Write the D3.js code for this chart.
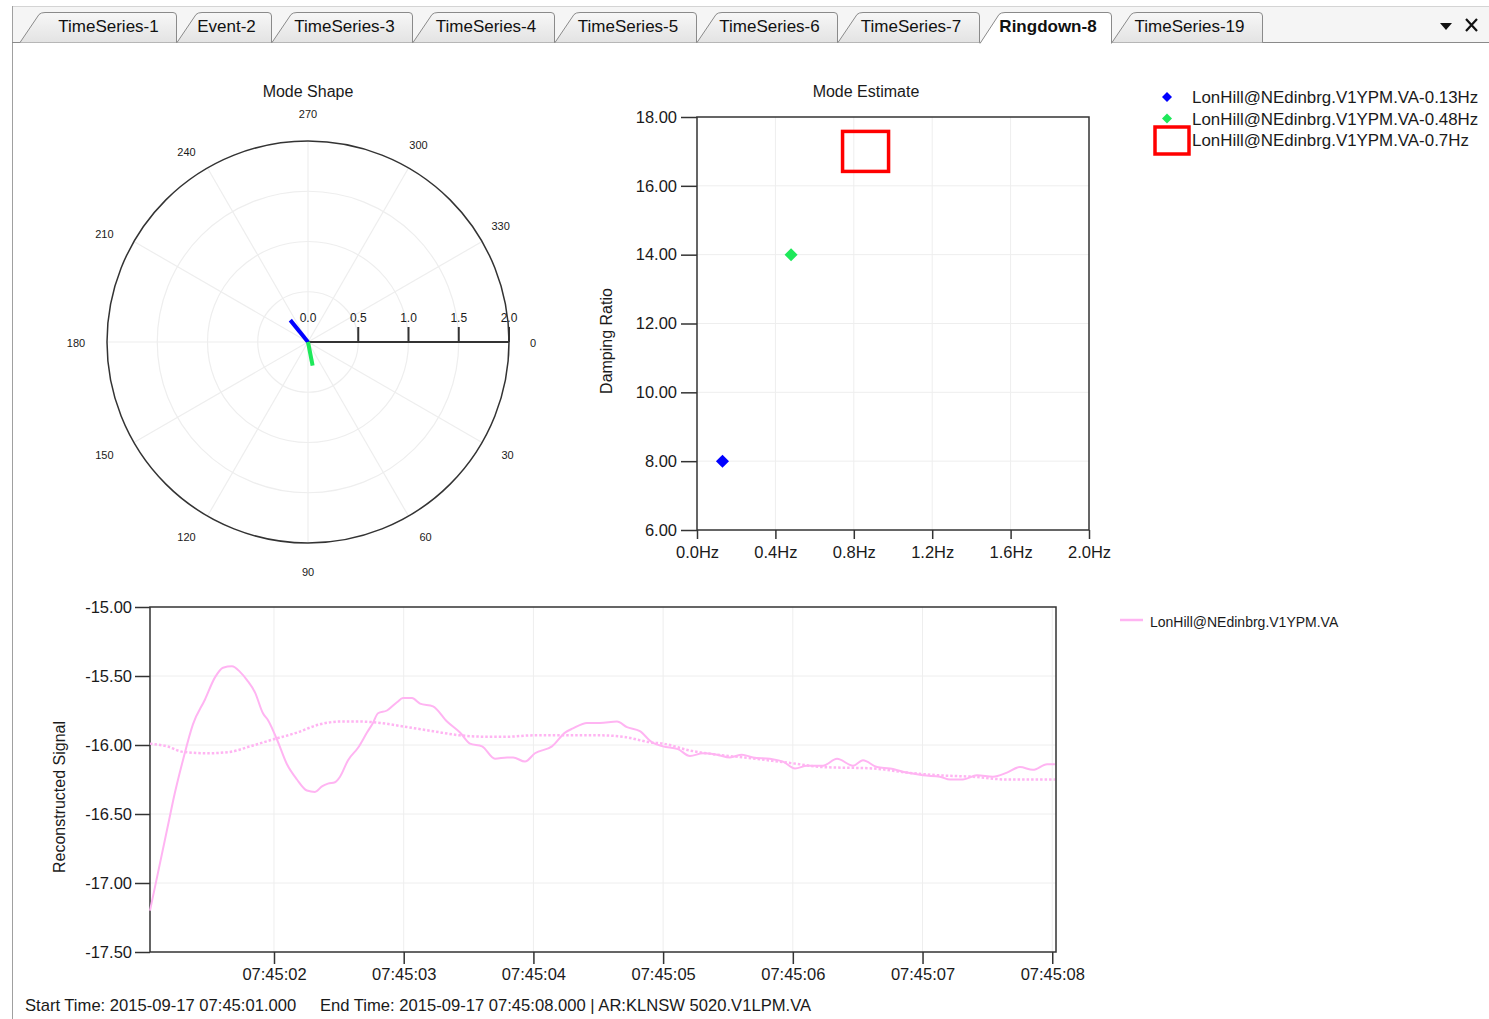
<!DOCTYPE html>
<html>
<head>
<meta charset="utf-8">
<script src="https://cdn.jsdelivr.net/npm/d3@7"></script>
<style>
body { margin: 0; background: #fff; }
svg { display: block; font-family: "Liberation Sans", Arial, sans-serif; }
</style>
</head>
<body>
<div id="chart"></div>
<script>
// ---- data ----
const tabNames = ["TimeSeries-1", "Event-2", "TimeSeries-3", "TimeSeries-4", "TimeSeries-5",
    "TimeSeries-6", "TimeSeries-7", "Ringdown-8", "TimeSeries-19"];
const activeTab = "Ringdown-8";

// mode shape: magnitude / angle (deg, clockwise from 0)
const shapeMag = [0.28, 0.24];
const shapeAngle = [231, 79];
const shapeColors = ["#0000ff", "#1ee85a"];
const polarRings = [0.5, 1.0, 1.5, 2.0];
const polarAngles = [0, 30, 60, 90, 120, 150, 180, 210, 240, 270, 300, 330];

// mode estimate
const modeLabels = ["LonHill@NEdinbrg.V1YPM.VA-0.13Hz", "LonHill@NEdinbrg.V1YPM.VA-0.48Hz", "LonHill@NEdinbrg.V1YPM.VA-0.7Hz"];
const modeFreq = [0.13, 0.48, 0.86];
const modeDamping = [8.0, 14.0, 17.0];
const modeMarker = ["diamond", "diamond", "square"];
const modeColors = ["#0000ff", "#1ee85a", "#ff0000"];
const freqTicks = [0, 0.4, 0.8, 1.2, 1.6, 2.0];
const dampTicks = [6, 8, 10, 12, 14, 16, 18];

// ringdown signal (seconds after 07:45:00)
const sigName = "LonHill@NEdinbrg.V1YPM.VA";
const sigTime = [1.044, 1.192, 1.223, 1.298, 1.375, 1.468, 1.545, 1.607, 1.676, 1.738, 1.792, 1.854, 1.915, 1.954,
    2.023, 2.100, 2.177, 2.254, 2.316, 2.370, 2.416, 2.470, 2.509, 2.571, 2.648, 2.717, 2.763, 2.802, 2.871, 2.948,
    2.995, 3.064, 3.126, 3.226, 3.334, 3.434, 3.511, 3.604, 3.704, 3.797, 3.843, 3.935, 4.012, 4.143, 4.244, 4.305,
    4.413, 4.513, 4.644, 4.721, 4.821, 4.914, 4.999, 5.114, 5.207, 5.307, 5.415, 5.515, 5.608, 5.693, 5.824, 5.924,
    6.017, 6.109, 6.233, 6.341, 6.464, 6.541, 6.649, 6.749, 6.880, 7.004, 7.135, 7.212, 7.312, 7.420, 7.543, 7.651,
    7.751, 7.851, 7.960, 8.021];
const sigValue = [-17.20, -16.54, -16.40, -16.11, -15.85, -15.67, -15.51, -15.44, -15.43, -15.47, -15.53, -15.62, -15.77, -15.82,
    -15.96, -16.14, -16.25, -16.33, -16.34, -16.30, -16.28, -16.27, -16.23, -16.11, -16.02, -15.91, -15.84, -15.77, -15.75, -15.69,
    -15.66, -15.66, -15.70, -15.72, -15.83, -15.91, -15.99, -16.01, -16.10, -16.09, -16.09, -16.12, -16.06, -16.01, -15.91, -15.88,
    -15.84, -15.84, -15.83, -15.87, -15.90, -15.98, -16.01, -16.03, -16.08, -16.06, -16.07, -16.09, -16.07, -16.09, -16.10, -16.12,
    -16.17, -16.15, -16.15, -16.10, -16.15, -16.11, -16.16, -16.17, -16.20, -16.22, -16.23, -16.25, -16.25, -16.22, -16.23, -16.20,
    -16.16, -16.18, -16.14, -16.14];
const fitTime = [1.044, 1.176, 1.298, 1.483, 1.661, 1.815, 1.992, 2.177, 2.354, 2.509, 2.663, 2.817, 3.025, 3.226, 3.434,
    3.642, 3.797, 3.998, 4.206, 4.513, 4.690, 4.898, 4.999, 5.207, 5.415, 5.616, 5.978, 6.233, 6.619, 6.880, 7.135,
    7.389, 7.651, 8.021];
const fitValue = [-15.99, -16.01, -16.05, -16.06, -16.05, -16.01, -15.96, -15.91, -15.85, -15.83, -15.83, -15.84, -15.87, -15.90, -15.93,
    -15.94, -15.94, -15.93, -15.93, -15.93, -15.94, -15.98, -15.99, -16.04, -16.07, -16.09, -16.13, -16.16, -16.17, -16.20, -16.22,
    -16.23, -16.25, -16.25];
const signalTicks = [-17.5, -17.0, -16.5, -16.0, -15.5, -15.0];
const timeTickSeconds = [2, 3, 4, 5, 6, 7, 8];
const startText = "Start Time: 2015-09-17 07:45:01.000";
const endText = "End Time: 2015-09-17 07:45:08.000 | AR:KLNSW 5020.V1LPM.VA";

// ---- setup ----
const W = 1489, H = 1019;
const TEXT = "#1a1a1a", AXIS = "#333", GRID = "#eeeeee", PINK = "#ffb4f2";

const svg = d3.select("#chart").append("svg")
    .attr("width", W)
    .attr("height", H);

// ---- tab strip ----
const tabEdges = [[20, 177], [177, 272], [272, 413], [413, 555], [555, 697], [697, 838], [838, 980], [980, 1112], [1112, 1263]];
const defs = svg.append("defs");
const grad = defs.append("linearGradient").attr("id", "tabgrad").attr("x1", 0).attr("y1", 0).attr("x2", 0).attr("y2", 1);
grad.append("stop").attr("offset", "0%").attr("stop-color", "#f7f7f7");
grad.append("stop").attr("offset", "100%").attr("stop-color", "#e3e3e3");

svg.append("rect").attr("x", 12).attr("y", 6).attr("width", W - 12).attr("height", 36).attr("fill", "#f5f5f5");
svg.append("line").attr("x1", 12).attr("x2", W).attr("y1", 6.5).attr("y2", 6.5).attr("stroke", "#d4d4d4");
svg.append("line").attr("x1", 12.5).attr("x2", 12.5).attr("y1", 6).attr("y2", H).attr("stroke", "#a0a0a0");
svg.append("line").attr("x1", 12).attr("x2", W).attr("y1", 42.5).attr("y2", 42.5).attr("stroke", "#8a8a8a");

function tabPath(xl, xr, bottom) {
    return `M${xl},${bottom} L${xl + 19},14.5 Q${xl + 21},12.5 ${xl + 25},12.5 L${xr - 4},12.5 Q${xr - 0.5},12.5 ${xr - 0.5},16 L${xr - 0.5},${bottom}`;
}

const order = tabNames.map((d, i) => i).sort((a, b) => (tabNames[a] === activeTab) - (tabNames[b] === activeTab));
const tabs = svg.append("g").selectAll("g").data(order).join("g");
tabs.append("path")
    .attr("d", i => tabPath(tabEdges[i][0], tabEdges[i][1], tabNames[i] === activeTab ? 43.5 : 42.5))
    .attr("fill", i => tabNames[i] === activeTab ? "#fff" : "url(#tabgrad)")
    .attr("stroke", "#8a8a8a");
tabs.append("text")
    .attr("x", i => (tabEdges[i][0] + tabEdges[i][1]) / 2 + (i === 0 ? 10 : 2))
    .attr("y", 32)
    .attr("text-anchor", "middle")
    .attr("font-size", 17)
    .attr("font-weight", i => tabNames[i] === activeTab ? "bold" : "normal")
    .attr("fill", "#111")
    .text(i => tabNames[i]);

// dropdown arrow and close
svg.append("path").attr("d", "M1440,23 L1452,23 L1446,30 Z").attr("fill", "#111");
svg.append("path").attr("d", "M1466,19 L1477,31 M1477,19 L1466,31").attr("stroke", "#111").attr("stroke-width", 2.2);

// ---- polar mode shape ----
const cx = 308, cy = 342;
const rScale = d3.scaleLinear().domain([0, 2]).range([0, 201]);
const polar = svg.append("g").attr("transform", `translate(${cx},${cy})`);
const rad = a => a * Math.PI / 180;
// small hand nudges so the angle labels sit where the original control put them
const labelNudge = { 0: [-2, 1], 30: [3, -1], 60: [4, -2], 90: [0, 3], 120: [-8, -2], 150: [-7, -1],
    180: [-5, 1], 210: [-7, 5], 240: [-8, 7], 270: [0, -1], 300: [-3, 0], 330: [-4, -3] };

polar.selectAll(".ring").data(polarRings.slice(0, -1)).join("circle")
    .attr("r", d => rScale(d)).attr("fill", "none").attr("stroke", GRID).attr("stroke-width", 1.2);
polar.selectAll(".spoke").data(polarAngles).join("line")
    .attr("x1", 0).attr("y1", 0)
    .attr("x2", d => rScale(2) * Math.cos(rad(d)))
    .attr("y2", d => rScale(2) * Math.sin(rad(d)))
    .attr("stroke", GRID).attr("stroke-width", 1.2);
polar.append("circle").attr("r", rScale(2)).attr("fill", "none").attr("stroke", AXIS).attr("stroke-width", 1.5);

polar.selectAll(".alabel").data(polarAngles).join("text")
    .attr("x", d => 227 * Math.cos(rad(d)) + labelNudge[d][0])
    .attr("y", d => 227 * Math.sin(rad(d)) + labelNudge[d][1] + 4)
    .attr("text-anchor", "middle")
    .attr("font-size", 11)
    .attr("fill", TEXT)
    .text(d => d);

// radial axis
polar.append("line").attr("x1", 0).attr("x2", rScale(2)).attr("y1", 0).attr("y2", 0).attr("stroke", AXIS).attr("stroke-width", 2);
polar.selectAll(".rtick").data(polarRings).join("line")
    .attr("x1", d => rScale(d)).attr("x2", d => rScale(d))
    .attr("y1", 0).attr("y2", -15)
    .attr("stroke", AXIS).attr("stroke-width", 2);
polar.selectAll(".rlabel").data([0].concat(polarRings)).join("text")
    .attr("x", d => rScale(d))
    .attr("y", -20)
    .attr("text-anchor", "middle")
    .attr("font-size", 12)
    .attr("fill", TEXT)
    .text(d => d.toFixed(1));

polar.selectAll(".vec").data(shapeMag).join("line")
    .attr("x1", 0).attr("y1", 0)
    .attr("x2", (d, i) => rScale(d) * Math.cos(rad(shapeAngle[i])))
    .attr("y2", (d, i) => rScale(d) * Math.sin(rad(shapeAngle[i])))
    .attr("stroke", (d, i) => shapeColors[i])
    .attr("stroke-width", 4);

svg.append("text").attr("x", cx).attr("y", 97).attr("text-anchor", "middle")
    .attr("font-size", 16).attr("fill", TEXT).text("Mode Shape");

// ---- mode estimate scatter ----
const sx = d3.scaleLinear().domain([0, 2]).range([697, 1089]);
const sy = d3.scaleLinear().domain([6, 18]).range([530, 117]);
const sc = svg.append("g");

sc.selectAll(".gx").data(freqTicks.slice(1, -1)).join("line")
    .attr("x1", d => sx(d)).attr("x2", d => sx(d)).attr("y1", sy(6)).attr("y2", sy(18))
    .attr("stroke", GRID);
sc.selectAll(".gy").data(dampTicks.slice(1, -1)).join("line")
    .attr("y1", d => sy(d)).attr("y2", d => sy(d)).attr("x1", sx(0)).attr("x2", sx(2))
    .attr("stroke", GRID);
sc.append("rect").attr("x", sx(0)).attr("y", sy(18)).attr("width", sx(2) - sx(0)).attr("height", sy(6) - sy(18))
    .attr("fill", "none").attr("stroke", AXIS).attr("stroke-width", 1.5);

const sxAxis = sc.append("g").attr("transform", `translate(0,${sy(6)})`)
    .call(d3.axisBottom(sx).tickValues(freqTicks).tickSize(9).tickPadding(7).tickFormat(d => d.toFixed(1) + "Hz"));
const syAxis = sc.append("g").attr("transform", `translate(${sx(0)},0)`)
    .call(d3.axisLeft(sy).tickValues(dampTicks).tickSize(16).tickPadding(4).tickFormat(d => d.toFixed(2)));
[sxAxis, syAxis].forEach(a => {
    a.select(".domain").remove();
    a.selectAll(".tick line").attr("stroke", AXIS).attr("stroke-width", 1.5);
    a.selectAll("text").attr("font-size", 16.5).attr("fill", TEXT).attr("font-family", null);
});

sc.append("text")
    .attr("transform", "translate(612,341) rotate(-90)")
    .attr("text-anchor", "middle").attr("font-size", 16).attr("fill", TEXT)
    .text("Damping Ratio");
svg.append("text").attr("x", 866).attr("y", 97).attr("text-anchor", "middle")
    .attr("font-size", 16).attr("fill", TEXT).text("Mode Estimate");

const diamond = d3.symbol().type(d3.symbolSquare).size(85);
const pts = sc.selectAll(".pt").data(modeFreq.map((f, i) => i)).join("g")
    .attr("transform", i => `translate(${sx(modeFreq[i])},${sy(modeDamping[i])})`);
pts.filter(i => modeMarker[i] === "diamond").append("path")
    .attr("d", diamond).attr("transform", "rotate(45)")
    .attr("fill", i => modeColors[i]);
pts.filter(i => modeMarker[i] === "square").append("rect")
    .attr("x", -23).attr("y", -20).attr("width", 46).attr("height", 40)
    .attr("fill", "none").attr("stroke", i => modeColors[i]).attr("stroke-width", 3.5);

// legend
const leg = svg.append("g").selectAll("g").data(modeLabels.map((d, i) => i)).join("g")
    .attr("transform", i => `translate(1167,${97 + i * 21.5})`);
leg.filter(i => modeMarker[i] === "diamond").append("path")
    .attr("d", d3.symbol().type(d3.symbolSquare).size(50)).attr("transform", "rotate(45)")
    .attr("fill", i => modeColors[i]);
leg.filter(i => modeMarker[i] === "square").append("rect")
    .attr("x", -12).attr("y", -13).attr("width", 34).attr("height", 27)
    .attr("fill", "none").attr("stroke", i => modeColors[i]).attr("stroke-width", 3.5);
leg.append("text").attr("x", 25).attr("y", 6).attr("font-size", 16.9).attr("fill", TEXT)
    .text(i => modeLabels[i]);

// ---- ringdown time series ----
const base = new Date(2015, 8, 17, 7, 45, 0);
const toDate = s => new Date(base.getTime() + s * 1000);
const tx = d3.scaleTime().domain([toDate(1.044), toDate(8.029)]).range([150, 1056]);
const ty = d3.scaleLinear().domain([-17.5, -15]).range([952, 607]);
const ts = svg.append("g");

ts.selectAll(".gx").data(timeTickSeconds).join("line")
    .attr("x1", d => tx(toDate(d))).attr("x2", d => tx(toDate(d))).attr("y1", ty(-17.5)).attr("y2", ty(-15))
    .attr("stroke", GRID);
ts.selectAll(".gy").data(signalTicks.slice(1, -1)).join("line")
    .attr("y1", d => ty(d)).attr("y2", d => ty(d)).attr("x1", 150).attr("x2", 1056)
    .attr("stroke", GRID);
ts.append("rect").attr("x", 150).attr("y", ty(-15)).attr("width", 906).attr("height", ty(-17.5) - ty(-15))
    .attr("fill", "none").attr("stroke", AXIS).attr("stroke-width", 1.5);

const txAxis = ts.append("g").attr("transform", `translate(0,${ty(-17.5)})`)
    .call(d3.axisBottom(tx).tickValues(timeTickSeconds.map(toDate)).tickSize(12).tickPadding(4)
        .tickFormat(d3.timeFormat("%H:%M:%S")));
const tyAxis = ts.append("g").attr("transform", "translate(150,0)")
    .call(d3.axisLeft(ty).tickValues(signalTicks).tickSize(15).tickPadding(3).tickFormat(d => d.toFixed(2)));
[txAxis, tyAxis].forEach(a => {
    a.select(".domain").remove();
    a.selectAll(".tick line").attr("stroke", AXIS).attr("stroke-width", 1.5);
    a.selectAll("text").attr("font-size", 16.5).attr("fill", TEXT).attr("font-family", null);
});

ts.append("text")
    .attr("transform", "translate(65,797) rotate(-90)")
    .attr("text-anchor", "middle").attr("font-size", 16).attr("fill", TEXT)
    .text("Reconstructed Signal");

const line = d3.line().x(d => tx(toDate(d[0]))).y(d => ty(d[1])).curve(d3.curveMonotoneX);
ts.append("path")
    .datum(fitTime.map((t, i) => [t, fitValue[i]]))
    .attr("d", line).attr("fill", "none").attr("stroke", PINK)
    .attr("stroke-width", 2.5).attr("stroke-dasharray", "2.5,2");
ts.append("path")
    .datum(sigTime.map((t, i) => [t, sigValue[i]]))
    .attr("d", line).attr("fill", "none").attr("stroke", PINK).attr("stroke-width", 2);

svg.append("line").attr("x1", 1120).attr("x2", 1143).attr("y1", 620).attr("y2", 620)
    .attr("stroke", PINK).attr("stroke-width", 2.5);
svg.append("text").attr("x", 1150).attr("y", 627).attr("font-size", 14).attr("fill", TEXT).text(sigName);

// footer
svg.append("text").attr("x", 25).attr("y", 1011).attr("font-size", 16.6).attr("fill", TEXT).text(startText);
svg.append("text").attr("x", 320).attr("y", 1011).attr("font-size", 16.6).attr("fill", TEXT).text(endText);
</script>
</body>
</html>
